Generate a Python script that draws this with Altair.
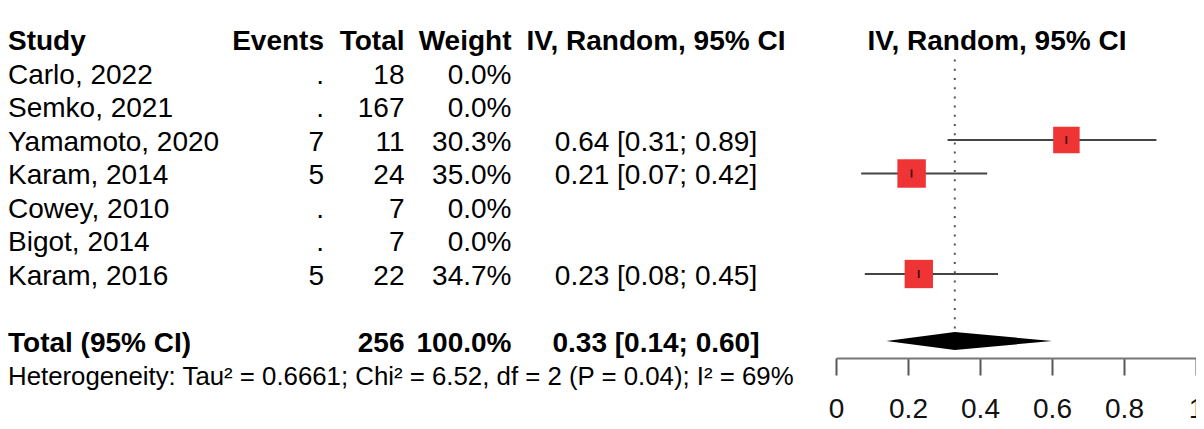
import altair as alt
import pandas as pd

FONT = "Liberation Sans"
FS = 28

# ---- data ----
studies = ["Carlo, 2022", "Semko, 2021", "Yamamoto, 2020", "Karam, 2014",
           "Cowey, 2010", "Bigot, 2014", "Karam, 2016"]
events = [".", ".", "7", "5", ".", ".", "5"]
totals = [18, 167, 11, 24, 7, 7, 22]
weights = [0.0, 0.0, 30.3, 35.0, 0.0, 0.0, 34.7]
estimates = [None, None, 0.64, 0.21, None, None, 0.23]
lowers = [None, None, 0.31, 0.07, None, None, 0.08]
uppers = [None, None, 0.89, 0.42, None, None, 0.45]

pooled_est = 0.33
pooled_lo = 0.14
pooled_hi = 0.60
pooled_total = 256
pooled_weight = 100.0

headers = ["Study", "Events", "Total", "Weight", "IV, Random, 95% CI"]
forest_header = "IV, Random, 95% CI"
het_text = "Heterogeneity: Tau\u00b2 = 0.6661; Chi\u00b2 = 6.52, df = 2 (P = 0.04); I\u00b2 = 69%"
tick_values = [0, 0.2, 0.4, 0.6, 0.8, 1]

# ---- tables ----
rows = []
for i, s in enumerate(studies):
    e = estimates[i]
    ci = "" if e is None else f"{e:.2f} [{lowers[i]:.2f}; {uppers[i]:.2f}]"
    rows.append(dict(row=i + 1, study=s, events=events[i], total=str(totals[i]),
                     wtxt=f"{weights[i]:.1f}%", ci=ci, est=e, lo=lowers[i],
                     hi=uppers[i], weight=weights[i]))
df = pd.DataFrame(rows)
df_est = df.dropna(subset=["est"])

TOTAL_ROW = 9
df_total = pd.DataFrame([dict(row=TOTAL_ROW, study="Total (95% CI)", events="",
                              total=str(pooled_total), wtxt=f"{pooled_weight:.1f}%",
                              ci=f"{pooled_est:.2f} [{pooled_lo:.2f}; {pooled_hi:.2f}]")])
df_head = pd.DataFrame([dict(row=0, study=headers[0], events=headers[1], total=headers[2],
                             wtxt=headers[3], ci=headers[4], fh=forest_header)])
df_het = pd.DataFrame([dict(row=10, t=het_text)])

half = 0.27
df_diamond = pd.DataFrame(dict(x=[pooled_lo, pooled_est, pooled_hi],
                               y=[TOTAL_ROW, TOTAL_ROW - half, TOTAL_ROW],
                               y2=[TOTAL_ROW, TOTAL_ROW + half, TOTAL_ROW]))
df_ref = pd.DataFrame(dict(x=[pooled_est], y=[0.6], y2=[TOTAL_ROW - half]))

xscale = alt.Scale(domain=[0, 1], range=[828, 1188])
yscale = alt.Scale(domain=[0, 10], range=[31.5, 366.5])
Y = alt.Y("row:Q", scale=yscale, axis=None)


def text_layer(data, field, xpx, align, bold=False, size=FS):
    return alt.Chart(data).mark_text(
        align=align, baseline="alphabetic", dy=10.7, font=FONT, fontSize=size,
        fontWeight="bold" if bold else "normal", color="black"
    ).encode(x=alt.value(xpx), y=Y, text=alt.Text(f"{field}:N"))


ref = alt.Chart(df_ref).mark_rule(color="#555", strokeWidth=2, strokeDash=[2, 7.2]).encode(
    x=alt.X("x:Q", scale=xscale,
            axis=alt.Axis(values=tick_values, format="~g", title=None, grid=False,
                          domainColor="#777", domainWidth=2, tickColor="#555",
                          tickWidth=2, tickSize=17, labelFont=FONT, labelFontSize=FS,
                          labelColor="#111", labelPadding=20, labelFlush=False)),
    y=alt.Y("y:Q", scale=yscale, axis=None), y2="y2:Q")

ci_lines = alt.Chart(df_est).mark_rule(color="#444", strokeWidth=2).encode(
    x=alt.X("lo:Q", scale=xscale), x2="hi:Q", y=Y)

squares = alt.Chart(df_est).mark_square(color="#ee3434", opacity=1).encode(
    x=alt.X("est:Q", scale=xscale), y=Y,
    size=alt.Size("weight:Q", scale=alt.Scale(domain=[0, 35], range=[0, 810]), legend=None))

ticks = alt.Chart(df_est).mark_tick(orient="vertical", size=8, thickness=1.8, color="black").encode(
    x=alt.X("est:Q", scale=xscale), y=Y)

diamond = alt.Chart(df_diamond).mark_area(color="black", opacity=1).encode(
    x=alt.X("x:Q", scale=xscale), y=alt.Y("y:Q", scale=yscale, axis=None), y2="y2:Q")

layers = [ref, ci_lines, squares, ticks, diamond]

# header
layers += [
    text_layer(df_head, "study", 0, "left", bold=True),
    text_layer(df_head, "events", 316, "right", bold=True),
    text_layer(df_head, "total", 396.5, "right", bold=True),
    text_layer(df_head, "wtxt", 503.5, "right", bold=True),
    text_layer(df_head, "ci", 648, "center", bold=True),
    text_layer(df_head, "fh", 989, "center", bold=True),
]
# study rows
layers += [
    text_layer(df, "study", 0, "left"),
    text_layer(df, "events", 316, "right"),
    text_layer(df, "total", 396.5, "right"),
    text_layer(df, "wtxt", 503.5, "right"),
    text_layer(df, "ci", 648, "center"),
]
# total row
layers += [
    text_layer(df_total, "study", 0, "left", bold=True),
    text_layer(df_total, "total", 396.5, "right", bold=True),
    text_layer(df_total, "wtxt", 503.5, "right", bold=True),
    text_layer(df_total, "ci", 648, "center", bold=True),
]
layers += [text_layer(df_het, "t", 0, "left", size=25.8)]

chart = alt.layer(*layers).properties(
    width=1188, height=350,
    autosize=alt.AutoSizeParams(type="none"),
    padding={"left": 0, "top": 0, "right": 0, "bottom": 63},
    background="white",
).configure_view(stroke=None)

chart.save("out.html", embed_options={"renderer": "svg", "actions": False})
